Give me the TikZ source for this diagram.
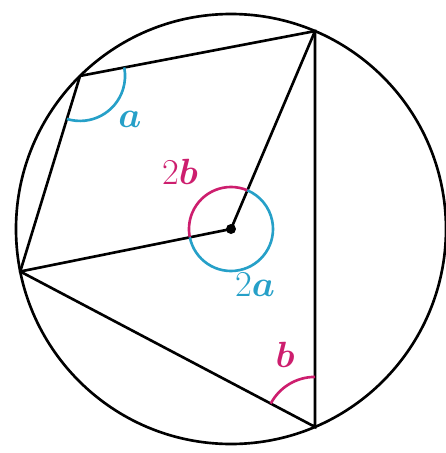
\documentclass[tikz,border=0pt]{standalone}
\usepackage{amsmath,bm}
\usetikzlibrary{angles}
\definecolor{angcyan}{RGB}{38,160,200}
\definecolor{angpink}{RGB}{205,30,110}
\tikzset{lbl/.style={font=\fontsize{20}{24}\selectfont}}

\begin{document}
\begin{tikzpicture}[line width=1.5pt]
\useasboundingbox (-4.62,-4.48) rectangle (4.30,4.58);
\coordinate (O) at (0,0);
\coordinate (T) at (67:4.3);
\coordinate (A) at (134.6:4.3);
\coordinate (L) at (191.4:4.3);
\coordinate (B) at (-67:4.3);
\draw (O) circle (4.3);
\draw (A) -- (T) -- (B) -- (L) -- (A);
\draw (L) -- (O) -- (T);
% angle arcs
\pic[draw=angcyan,angle radius=0.9cm] {angle=L--A--T};
\pic[draw=angpink,angle radius=1cm] {angle=T--B--L};
\pic[draw=angpink,angle radius=0.84cm] {angle=T--O--L};
\pic[draw=angcyan,angle radius=0.84cm] {angle=L--O--T};
\fill (O) circle (0.1);
\node[lbl,text=angcyan] (la) at (-2.02,2.2) {$\bm{a}$};
\node[lbl,text=angpink] (l2b) at (-1.02,1.14) {$2\bm{b}$};
\node[lbl,text=angcyan] (l2a) at (0.48,-1.12) {$2\bm{a}$};
\node[lbl,text=angpink] (lb) at (1.08,-2.52) {$\bm{b}$};
\end{tikzpicture}
\end{document}
